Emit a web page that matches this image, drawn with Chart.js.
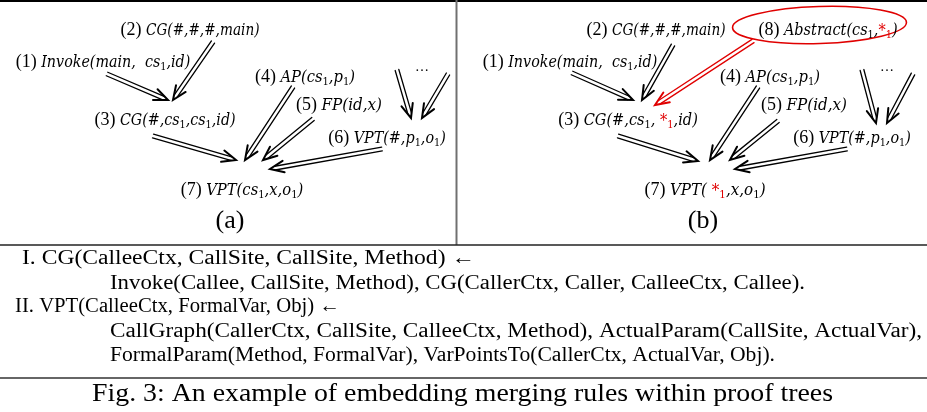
<!DOCTYPE html>
<html>
<head>
<meta charset="utf-8">
<script src="https://cdn.jsdelivr.net/npm/chart.js@4.4.0/dist/chart.umd.min.js"></script>
<style>
  html, body { margin: 0; padding: 0; background: #fff; }
  #wrap { width: 927px; height: 412px; }
</style>
</head>
<body>
<div id="wrap"><canvas id="proofChart" width="927" height="412"></canvas></div>
<script>
// proof tree facts, panel (a) then panel (b); "_1" = subscript, "*" = red abstract ctx
var nodeLabels = [
  "(2) CG(#,#,#,main)", "(1) Invoke(main,  cs_1,id)", "(3) CG(#,cs_1,cs_1,id)",
  "(4) AP(cs_1,p_1)", "(5) FP(id,x)", "(6) VPT(#,p_1,o_1)", "(7) VPT(cs_1,x,o_1)",
  "(2) CG(#,#,#,main)", "(8) Abstract(cs_1,*_1)", "(1) Invoke(main,  cs_1,id)",
  "(3) CG(#,cs_1, *_1,id)", "(4) AP(cs_1,p_1)", "(5) FP(id,x)", "(6) VPT(#,p_1,o_1)",
  "(7) VPT( *_1,x,o_1)"
];
var nodeX = [190, 103, 165, 305, 339, 387, 242, 656, 828, 570, 628, 770, 804, 852, 705];
var nodeY = [30, 62, 120, 77, 105, 138, 190, 30, 30, 62, 120, 77, 105, 138, 190];

// derivation edges (premise -> conclusion)
var edgeX1 = [107, 213, 153, 293, 313, 382, 397, 448, 572, 673, 753, 618, 758, 778, 847, 862, 913];
var edgeY1 = [74, 42, 136, 87, 119, 149, 70, 74, 73, 45, 41, 136, 87, 121, 149, 70, 74];
var edgeX2 = [168, 173, 236, 245, 263, 270, 411, 422, 633, 642, 655, 698, 710, 730, 735, 876, 887];
var edgeY2 = [100, 100, 160, 160, 160, 169, 118, 118, 100, 100, 105, 161, 160, 160, 169, 123, 123];
var redEdges = [10];

var ellipsisX = [422, 887];
var ellipsisY = [67, 67];

var panelNames = ["(a)", "(b)"];
var panelX = [230, 703];
var panelY = [221, 221];

var ruleLines = [
  "I. CG(CalleeCtx, CallSite, CallSite, Method) \u2190",
  "Invoke(Callee, CallSite, Method), CG(CallerCtx, Caller, CalleeCtx, Callee).",
  "II. VPT(CalleeCtx, FormalVar, Obj) \u2190",
  "CallGraph(CallerCtx, CallSite, CalleeCtx, Method), ActualParam(CallSite, ActualVar),",
  "FormalParam(Method, FormalVar), VarPointsTo(CallerCtx, ActualVar, Obj)."
];
var captionText = "Fig. 3: An example of embedding merging rules within proof trees";

// layout for the text block under the panels
var ruleLeft = [22, 110, 15, 110, 110];
var ruleRight = [475, 805, 340, 922, 775];
var ruleY = [259, 284, 307, 332, 356];

var SERIF = "'Liberation Serif', 'DejaVu Serif', serif";
var MATH = "'DejaVu Serif', serif";

function fitText(ctx, txt, x1, x2, y, font) {
  ctx.save();
  ctx.font = font;
  ctx.textBaseline = 'middle';
  ctx.textAlign = 'left';
  var w = ctx.measureText(txt).width;
  ctx.translate(x1, y);
  ctx.scale((x2 - x1) / w, 1);
  ctx.fillText(txt, 0, 0);
  ctx.restore();
}

function parseLabel(txt) {
  var m = txt.match(/^(\(\d\))\s(.*)$/);
  var runs = [];
  var body = m[2], red = false;
  for (var i = 0; i < body.length; i++) {
    var c = body[i];
    if (c === '*') { runs.push({ t: '*', it: false, sub: false, red: true }); red = true; continue; }
    if (c === '_') { runs.push({ t: body[i + 1], it: false, sub: true, red: red }); i++; red = false; continue; }
    runs.push({ t: c, it: true, sub: false, red: false });
  }
  return { pre: m[1] + ' ', runs: runs };
}

function runsWidth(ctx, runs, family, size) {
  var total = 0;
  runs.forEach(function (r) {
    var sz = r.sub ? size * 0.68 : size;
    r.font = (r.it ? 'italic ' : '') + sz + 'px ' + family;
    ctx.font = r.font;
    r.w = ctx.measureText(r.t).width;
    total += r.w;
  });
  return total;
}

function drawLabel(ctx, txt, cx, cy) {
  var lab = parseLabel(txt);
  var runs = lab.runs;
  ctx.font = '18px ' + SERIF;
  var preW = ctx.measureText(lab.pre).width;
  // width reference: a Times italic of 18px, drawn with a bigger x-height face
  var target = runsWidth(ctx, runs, SERIF, 18);
  var total = runsWidth(ctx, runs, MATH, 17.5);
  var sx = target / total;
  var x0 = cx - (preW + target) / 2;
  ctx.save();
  ctx.textBaseline = 'middle';
  ctx.textAlign = 'left';
  ctx.fillStyle = '#000';
  ctx.font = '18px ' + SERIF;
  ctx.fillText(lab.pre, x0, cy);
  ctx.translate(x0 + preW, cy);
  ctx.scale(sx, 1);
  var x = 0;
  runs.forEach(function (r) {
    ctx.font = r.font;
    ctx.fillStyle = r.red ? '#e00000' : '#000';
    ctx.fillText(r.t, x, r.sub ? 5 : (r.red ? 1 : 0));
    x += r.w;
  });
  ctx.restore();
}

function drawDoubleArrow(ctx, x1, y1, x2, y2, color) {
  var dx = x2 - x1, dy = y2 - y1;
  var len = Math.sqrt(dx * dx + dy * dy);
  var ux = dx / len, uy = dy / len;
  var nx = -uy, ny = ux;
  var gap = 1.9, head = 15, ang = 0.4;
  ctx.save();
  ctx.strokeStyle = color;
  ctx.lineWidth = 1.3;
  ctx.lineCap = 'round';
  var ex = x2 - ux * 5, ey = y2 - uy * 5;
  [-1, 1].forEach(function (s) {
    ctx.beginPath();
    ctx.moveTo(x1 + nx * gap * s, y1 + ny * gap * s);
    ctx.lineTo(ex + nx * gap * s, ey + ny * gap * s);
    ctx.stroke();
  });
  ctx.lineWidth = 2;
  ctx.beginPath();
  var c = Math.cos(ang), sn = Math.sin(ang);
  ctx.moveTo(x2 - head * (ux * c - nx * sn), y2 - head * (uy * c - ny * sn));
  ctx.lineTo(x2, y2);
  ctx.lineTo(x2 - head * (ux * c + nx * sn), y2 - head * (uy * c + ny * sn));
  ctx.stroke();
  ctx.restore();
}

var edgeSets = edgeX1.map(function (x, i) {
  return {
    label: 'edge' + i,
    data: [{ x: edgeX1[i], y: edgeY1[i] }, { x: edgeX2[i], y: edgeY2[i] }],
    showLine: false,
    pointRadius: 0,
    isEdge: true,
    edgeColor: redEdges.indexOf(i) >= 0 ? '#e00000' : '#000'
  };
});

var diagramPlugin = {
  id: 'proofTree',
  beforeDraw: function (chart) {
    var ctx = chart.ctx;
    ctx.save();
    ctx.fillStyle = '#fff';
    ctx.fillRect(0, 0, chart.width, chart.height);
    ctx.restore();
  },
  afterDatasetsDraw: function (chart) {
    var ctx = chart.ctx;
    var xs = chart.scales.x, ys = chart.scales.y;
    ctx.save();

    // frame lines
    ctx.strokeStyle = '#000';
    ctx.lineWidth = 2;
    ctx.beginPath(); ctx.moveTo(0, 1); ctx.lineTo(chart.width, 1); ctx.stroke();
    ctx.strokeStyle = '#707070';
    ctx.beginPath(); ctx.moveTo(456.5, 0); ctx.lineTo(456.5, 245); ctx.stroke();
    ctx.strokeStyle = '#222';
    ctx.lineWidth = 1.5;
    ctx.beginPath(); ctx.moveTo(0, 245); ctx.lineTo(chart.width, 245); ctx.stroke();
    ctx.strokeStyle = '#666';
    ctx.lineWidth = 2;
    ctx.beginPath(); ctx.moveTo(0, 378); ctx.lineTo(chart.width, 378); ctx.stroke();

    // edges
    chart.data.datasets.forEach(function (ds, i) {
      if (!ds.isEdge) return;
      var pts = chart.getDatasetMeta(i).data;
      drawDoubleArrow(ctx, pts[0].x, pts[0].y, pts[1].x, pts[1].y, ds.edgeColor);
    });

    // abstraction ellipse around node (8)
    ctx.strokeStyle = '#e00000';
    ctx.lineWidth = 1.6;
    ctx.beginPath();
    ctx.ellipse(xs.getPixelForValue(819.5), ys.getPixelForValue(25), 87, 18.5, -0.03, 0, Math.PI * 2);
    ctx.stroke();

    // node labels
    var nodeMeta = chart.getDatasetMeta(0).data;
    nodeLabels.forEach(function (t, i) {
      drawLabel(ctx, t, nodeMeta[i].x, nodeMeta[i].y);
    });

    // ellipses
    ctx.fillStyle = '#000';
    ctx.font = '14px ' + SERIF;
    ctx.textAlign = 'center';
    ctx.textBaseline = 'middle';
    ellipsisX.forEach(function (x, i) {
      ctx.fillText('\u2026', xs.getPixelForValue(x), ys.getPixelForValue(ellipsisY[i]));
    });

    // panel names
    ctx.font = '26px ' + SERIF;
    panelNames.forEach(function (t, i) {
      ctx.fillText(t, xs.getPixelForValue(panelX[i]), ys.getPixelForValue(panelY[i]));
    });

    // rules
    ctx.fillStyle = '#000';
    ruleLines.forEach(function (t, i) {
      fitText(ctx, t, ruleLeft[i], ruleRight[i], ruleY[i], '20px ' + SERIF);
    });
    fitText(ctx, captionText, 92, 833, 394, '25px ' + SERIF);

    ctx.restore();
  }
};

new Chart('proofChart', {
  type: 'scatter',
  data: {
    datasets: [{
      label: 'facts',
      data: nodeX.map(function (x, i) { return { x: x, y: nodeY[i] }; }),
      pointRadius: 0
    }].concat(edgeSets)
  },
  options: {
    responsive: false,
    animation: false,
    devicePixelRatio: 1,
    layout: { padding: 0 },
    plugins: { legend: { display: false }, tooltip: { enabled: false } },
    scales: {
      x: { type: 'linear', min: 0, max: 927, display: false },
      y: { type: 'linear', min: 0, max: 412, reverse: true, display: false }
    }
  },
  plugins: [diagramPlugin]
});
</script>
</body>
</html>
